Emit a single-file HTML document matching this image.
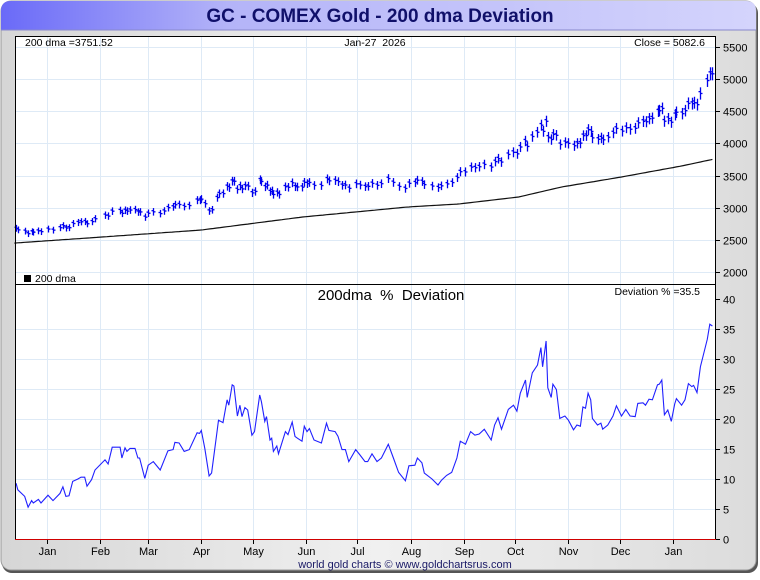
<!DOCTYPE html>
<html><head><meta charset="utf-8">
<style>
html,body{margin:0;padding:0;background:#fff;}
body{width:760px;height:575px;overflow:hidden;font-family:"Liberation Sans",sans-serif;}
</style></head>
<body>
<svg id="chart" width="760" height="575" xmlns="http://www.w3.org/2000/svg">
<defs>
<linearGradient id="frameg" x1="0" y1="0" x2="1" y2="0"><stop offset="0" stop-color="#d6d6d6"/><stop offset="0.5" stop-color="#f0f0f0"/><stop offset="1" stop-color="#dcdcdc"/></linearGradient>
<linearGradient id="titleg" x1="0" y1="0" x2="1" y2="0"><stop offset="0" stop-color="#6a6af8"/><stop offset="0.3" stop-color="#b4b4f8"/><stop offset="1" stop-color="#d4d4fc"/></linearGradient>
</defs>
<rect x="2" y="3" width="756" height="570" rx="10" fill="#555"/>
<rect x="1" y="1" width="755" height="569" rx="10" fill="url(#frameg)" stroke="#9a9a9a"/>
<path d="M1,30 L1,11 Q1,1 11,1 L746,1 Q756,1 756,11 L756,30 Z" fill="url(#titleg)"/>
<line x1="1" y1="30" x2="756" y2="30" stroke="#8888cc"/>
<text x="380" y="22" text-anchor="middle" font-size="19" font-weight="bold" fill="#10106a">GC - COMEX Gold - 200 dma Deviation</text>
<rect x="15" y="36" width="700" height="503" fill="#fff"/>
<g id="grid"></g>
<g id="marks"></g>
<g id="axes"></g>
<line x1="15.5" y1="36" x2="15.5" y2="539" stroke="#000"/>
<line x1="715.5" y1="36" x2="715.5" y2="539" stroke="#000"/>
<line x1="15" y1="36.5" x2="716" y2="36.5" stroke="#000"/>
<line x1="15" y1="284.5" x2="716" y2="284.5" stroke="#000"/>
<line x1="15" y1="539.5" x2="716" y2="539.5" stroke="#d00000"/>
<text x="25" y="46" font-size="10.5" fill="#000">200 dma =3751.52</text>
<text x="375" y="46" font-size="10.5" text-anchor="middle" fill="#000" xml:space="preserve">Jan-27  2026</text>
<text x="705" y="46" font-size="10.5" text-anchor="end" fill="#000">Close = 5082.6</text>
<rect x="24" y="275" width="7" height="7" fill="#000"/>
<text x="35" y="282" font-size="10.5" fill="#000">200 dma</text>
<text x="391" y="300" font-size="15" text-anchor="middle" fill="#000" xml:space="preserve">200dma  %  Deviation</text>
<text x="700" y="295" font-size="10.5" text-anchor="end" fill="#000">Deviation % =35.5</text>
<text x="405" y="568" font-size="11" text-anchor="middle" fill="#1a1a66">world gold charts © www.goldchartsrus.com</text>
</svg>
<script>
const monthLabels=["Jan","Feb","Mar","Apr","May","Jun","Jul","Aug","Sep","Oct","Nov","Dec","Jan"];
const monthDays=[0,31,59,90,120,151,181,212,243,273,304,334,365];
const priceTicks=[2000,2500,3000,3500,4000,4500,5000,5500];
const devTicks=[0,5,10,15,20,25,30,35,40];
const devDays=[-18,-17,-13,-11,-9,-8,-5,-3.5,0.6,3.5,7.6,9.3,11,12.8,15,18,19.8,22,23.3,26,28,33.8,35.6,38,42.6,43.7,45.5,46.6,48.4,51.3,53,54,57,59,62,66,68,70.5,73.5,74.6,77,80,83,87.5,89,90,92,94.5,96,99,100,102.6,105,106,108,109,111,112.5,113.7,115.4,117,119.5,121,124,125,127,128,130,131,132,134,135,139,140.5,143,144.6,146,148.7,150,151.6,153,155.7,160,163,164.4,168,169.7,172,174,176,180,182.5,185.4,187,189.5,192.4,195,199,202,205,209,211,214.5,216,218.6,220,224.5,228,230,233,236,239,241,244,247,249.5,252,255,259,261,263,265,269,272,274,276,279,280,283,286,288,289,291,292,294,295,297,299,302,304,307,309,311,312.5,314,315.5,317,318,321,323,324,327,330,332,335,337.5,340,343,344.5,347.5,349,351,353,356,357,358.5,360,362,364,366,367,370,372,374,376,377,379,381,385,386.5,388];
const devValues=[9.3,8.2,7.1,5.3,6.4,6.0,6.6,6.0,7.3,6.4,7.6,8.7,7.1,7.2,9.6,10,10.3,10.3,8.8,9.9,11.5,13.2,12.5,15.3,15.3,13.5,15.2,14.6,15.1,15.1,13.5,13.5,10.1,12.3,12.9,11.5,12.9,14.7,14.9,16.1,16,14.6,14.9,17.7,17.6,18.1,15.1,10.5,11,17.6,19.8,19.4,23.2,22.3,25.7,25.5,20.5,22.3,20.4,21.9,21.5,17.3,17.9,24,22.9,19.6,20.4,16.5,16.8,14.6,15.5,14.2,17.9,17.4,19.5,17.1,16.8,16.3,18.8,17.9,18.4,16.5,16,19.3,18.1,17.9,17.1,14.9,14.9,12.9,14.9,14,12.9,12.9,14.2,12.9,13.5,15.8,13.5,11.1,9.7,12.2,12.3,13.5,12.7,11,10,9,9.8,10.6,11.1,13.5,16.3,15.8,17.9,17.3,17.5,18.3,16.5,19,20.2,18.3,21.6,22.3,21.3,24.3,26.5,23.6,27.7,29,31.9,28.7,33,25.2,23.6,25.8,24.9,20.1,20.5,19.8,18.2,19,18.8,22,21.8,24.3,23.2,20.1,19,19.3,18.3,19,20.5,22.2,20.5,21.6,20.5,20.4,22.6,22.7,22.3,23.3,23.2,25.7,25.8,26.5,20.7,21.5,19.6,22.5,23.4,22.3,23.2,25.9,25.4,25.6,24.4,28.7,33.3,35.8,35.5];
const dmaDays=[-19,30,90,149,210,240,275,300,335,370,388];
const dmaValues=[2450,2540,2653,2855,3010,3058,3167,3322,3478,3649,3751.5];

const NS="http://www.w3.org/2000/svg";
const xOf=d=>47+d*1.715;
const yPrice=v=>47+(5500-v)/500*32.14;
const yDev=v=>539-v*6;
function mk(tag,attrs,parent){const e=document.createElementNS(NS,tag);for(const k in attrs)e.setAttribute(k,attrs[k]);parent.appendChild(e);return e;}
function dmaAt(d){
  if(d<=dmaDays[0])return dmaValues[0];
  for(let i=1;i<dmaDays.length;i++){if(d<=dmaDays[i]){const t=(d-dmaDays[i-1])/(dmaDays[i]-dmaDays[i-1]);return dmaValues[i-1]+t*(dmaValues[i]-dmaValues[i-1]);}}
  return dmaValues[dmaValues.length-1];
}
const grid=document.getElementById('grid'),marks=document.getElementById('marks'),axes=document.getElementById('axes');
monthDays.forEach((d,i)=>{
  const x=Math.round(xOf(d))+0.5;
  let l=mk('line',{x1:x,y1:37,x2:x,y2:539,stroke:'#deeaf6'},grid);
  
  
  let t=mk('line',{x1:x,y1:539,x2:x,y2:544,stroke:'#000'},axes);
  
  
  let tx=mk('text',{x:x,y:555,'font-size':11,'text-anchor':'middle',fill:'#000'},axes);
  tx.textContent=monthLabels[i];
  
  
});
priceTicks.forEach(v=>{
  const y=Math.round(yPrice(v))+0.5;
  let l=mk('line',{x1:16,y1:y,x2:715,y2:y,stroke:'#deeaf6'},grid);
  
  
  let t=mk('line',{x1:715,y1:y,x2:720,y2:y,stroke:'#000'},axes);
  
  
  let tx=mk('text',{x:723,y:y+4,'font-size':11,fill:'#000'},axes);
  tx.textContent=v;
  
  
});
devTicks.forEach(v=>{
  const y=Math.round(yDev(v))+0.5;
  if(v>0&&v<40){let l=mk('line',{x1:16,y1:y,x2:715,y2:y,stroke:'#deeaf6'},grid);
  
  }
  let t=mk('line',{x1:715,y1:y,x2:720,y2:y,stroke:'#000'},axes);
  
  
  let tx=mk('text',{x:723,y:y+4,'font-size':11,fill:'#000'},axes);
  tx.textContent=v;
  
  
});
let pts=[];for(let d=dmaDays[0];d<=dmaDays[dmaDays.length-1];d+=2)pts.push(xOf(d).toFixed(1)+','+yPrice(dmaAt(d)).toFixed(1));
pts.push(xOf(388).toFixed(1)+','+yPrice(dmaAt(388)).toFixed(1));
let dl=mk('polyline',{points:pts.join(' '),fill:'none',stroke:'#111','stroke-width':1.2},marks);


devDays.forEach((d,i)=>{
  const c=dmaAt(d)*(1+devValues[i]/100);
  const x=Math.round(xOf(d))+0.5;
  const g=mk('g',{stroke:'#0000ee','stroke-width':1.3},marks);
  
  
  mk('line',{x1:x,y1:yPrice(c*1.02),x2:x,y2:yPrice(c*0.98)},g);
  mk('line',{x1:x-2,y1:yPrice(c*1.006),x2:x,y2:yPrice(c*1.006)},g);
  mk('line',{x1:x,y1:yPrice(c),x2:x+2,y2:yPrice(c)},g);
});
const dp=devDays.map((d,i)=>xOf(d).toFixed(1)+','+yDev(devValues[i]).toFixed(1)).join(' ');
let dv=mk('polyline',{points:dp,fill:'none',stroke:'#2020ff','stroke-width':1.1},marks);


</script>
</body></html>
